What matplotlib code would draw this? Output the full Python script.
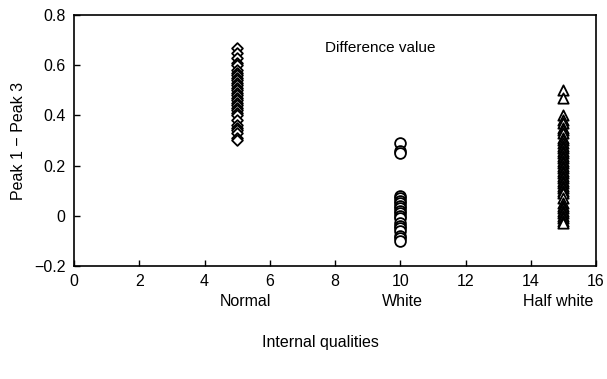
import matplotlib
matplotlib.use("Agg")
import matplotlib.pyplot as plt

plt.rcParams['font.family'] = ['Liberation Sans', 'DejaVu Sans']

categories = ["Normal", "White", "Half white"]
cat_x = [5, 10, 15]

normal_vals = [0.67, 0.65, 0.63, 0.61, 0.60, 0.58, 0.57, 0.56, 0.55, 0.54, 0.53, 0.52,
               0.51, 0.50, 0.49, 0.48, 0.47, 0.46, 0.45, 0.44, 0.43, 0.42, 0.41, 0.40,
               0.38, 0.36, 0.35, 0.34, 0.33, 0.31, 0.30]
white_vals = [0.29, 0.26, 0.25, 0.08, 0.07, 0.06, 0.05, 0.04, 0.03, 0.02, 0.01, 0.00,
              -0.01, -0.03, -0.04, -0.05, -0.06, -0.08, -0.09, -0.10]
half_white_vals = [0.50, 0.47, 0.40, 0.38, 0.37, 0.35, 0.34, 0.33, 0.31, 0.30, 0.29,
                   0.28, 0.27, 0.26, 0.25, 0.24, 0.23, 0.22, 0.21, 0.20, 0.19, 0.18,
                   0.17, 0.16, 0.15, 0.14, 0.13, 0.12, 0.11, 0.10, 0.09, 0.07, 0.05,
                   0.04, 0.03, 0.02, 0.01, 0.00, -0.01, -0.02, -0.03]

x_ticks = [0, 2, 4, 6, 8, 10, 12, 14, 16]
y_ticks = [-0.2, 0, 0.2, 0.4, 0.6, 0.8]
y_ticklabels = ["\u22120.2", "0", "0.2", "0.4", "0.6", "0.8"]

fig = plt.figure(figsize=(6.07, 3.79), dpi=100)
ax = fig.add_axes([0.1219, 0.2982, 0.8601, 0.6622])

ax.scatter([cat_x[0]] * len(normal_vals), normal_vals, marker='D', s=30,
           facecolors='white', edgecolors='black', linewidths=1.3, zorder=3)
ax.scatter([cat_x[1]] * len(white_vals), white_vals, marker='o', s=60,
           facecolors='white', edgecolors='black', linewidths=1.3, zorder=3)
ax.scatter([cat_x[2]] * len(half_white_vals), half_white_vals, marker='^', s=55,
           facecolors='white', edgecolors='black', linewidths=1.3, zorder=3)

ax.set_xlim(0, 16)
ax.set_ylim(-0.2, 0.8)
ax.set_xticks(x_ticks)
ax.set_xticklabels([str(t) for t in x_ticks])
ax.set_yticks(y_ticks)
ax.set_yticklabels(y_ticklabels)
ax.tick_params(direction='in', length=4, width=1, labelsize=11.5, pad=6)

for sp in ax.spines.values():
    sp.set_linewidth(1.2)

ax.text(9.4, 0.668, "Difference value", fontsize=11, ha='center', va='center')

label_x = [5.24, 10.08, 14.83]
for lx, name in zip(label_x, categories):
    ax.text(lx, -0.343, name, fontsize=11.5, ha='center', va='center', clip_on=False)

ax.text(7.54, -0.503, "Internal qualities", fontsize=11.5, ha='center', va='center',
        clip_on=False)
ax.set_ylabel("Peak 1 \u2212 Peak 3", fontsize=11.5, labelpad=6)

fig.savefig("out.png", dpi=100)
